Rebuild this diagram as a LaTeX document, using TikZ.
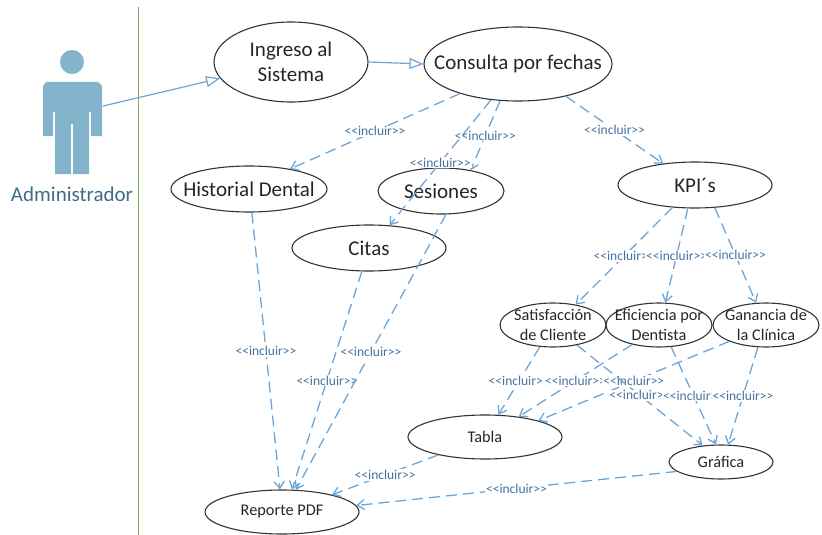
\documentclass[tikz,border=0pt]{standalone}
\usepackage{fontspec}
\setmainfont{Carlito}
\usetikzlibrary{arrows.meta, shapes.geometric}
\definecolor{linkblue}{RGB}{110,165,215}
\definecolor{labelblue}{RGB}{68,114,160}
\definecolor{actorblue}{RGB}{132,180,204}
\definecolor{actortext}{RGB}{62,110,135}
\definecolor{laneGreen}{RGB}{125,170,85}
\newcommand{\incltext}{<{}<incluir>{}>}
\tikzset{
  usecase/.style={draw=black!80, line width=1.1pt, ellipse, inner sep=-60pt, align=center, text=black!85},
  bigcase/.style={usecase, font=\fontsize{21}{25}\selectfont, minimum height=46pt},
  smallcase/.style={usecase, font=\fontsize{16.3}{20}\selectfont, minimum height=44pt},
  inclink/.style={draw=linkblue, line width=1.3pt, dash pattern=on 11pt off 6pt, -{Straight Barb[length=7pt, width=10pt]}},
  incl/.style={midway, fill=white, inner sep=1pt, text=labelblue, font=\fontsize{13.5}{15}\selectfont},
  assoc/.style={draw=linkblue, line width=1.2pt, -{Triangle[open, fill=white, length=14pt, width=11pt]}}
}
\begin{document}
\begin{tikzpicture}[x=1pt, y=-1pt]
        \useasboundingbox (0,0) rectangle (822,535);
        % Lane line
        \coordinate (lanetop) at (138,7);
        \coordinate (lanebot) at (138,535);
        \draw[laneGreen, line width=0.9pt] (lanetop) -- (lanebot);
        % Actor
        \fill[actorblue] (72,62) circle (12);
        \fill[actorblue] (46,82) -- (98,82) -- (102,86) -- (102,136) -- (91,136) -- (91,112) -- (89,112)
          -- (89,174) -- (55,174) -- (55,112) -- (53,112) -- (53,136) -- (43,136) -- (43,86) -- cycle;
        \fill[white] (71.3,124) rectangle (73,174);
        \node[text=actortext, font=\fontsize{21}{25}\selectfont] (admin) at (72,194) {Administrador};
        \coordinate (actor) at (103,106);
        % Use cases
        \node[usecase, font=\fontsize{21}{25}\selectfont, minimum width=154pt, minimum height=80pt] (ingreso) at (291,62) {Ingreso al\\Sistema};
        \node[usecase, font=\fontsize{21}{25}\selectfont, minimum width=188pt, minimum height=74pt] (consulta) at (518,64) {Consulta por fechas};
        \node[bigcase, minimum width=156pt] (historial) at (249,189) {Historial Dental};
        \node[bigcase, minimum width=126pt] (sesiones) at (441,191) {Sesiones};
        \node[bigcase, minimum width=154pt] (citas) at (369,248) {Citas};
        \node[bigcase, minimum width=154pt] (kpi) at (695,185) {KPI´s};
        % Indicators
        \node[smallcase, minimum width=106pt] (satisfaccion) at (553,325) {Satisfacción\\de Cliente};
        \node[smallcase, minimum width=106pt] (eficiencia) at (659,325) {Eficiencia por\\Dentista};
        \node[smallcase, minimum width=106pt] (ganancia) at (766,325) {Ganancia de\\la Clínica};
        % Outputs
        \node[smallcase, minimum width=154pt] (tabla) at (485,437) {Tabla};
        \node[smallcase, minimum width=104pt, minimum height=34pt] (grafica) at (721,462) {Gráfica};
        \node[smallcase, minimum width=154pt] (reporte) at (282,512) {Reporte PDF};
        % Associations
        \draw[assoc] (actor) -- (ingreso.193);
        \draw[assoc] (ingreso.0) -- (consulta.180);
        % Includes from the query
        \draw[inclink] (consulta.207) -- node[incl] (inclhistorial) {\incltext} (historial.26);
        \draw[inclink] (consulta.244) -- node[incl] (inclsesiones) {\incltext} (sesiones.35);
        \draw[inclink] (consulta.233) -- node[incl] (inclcitas) {\incltext} (citas.48);
        \draw[inclink] (consulta.-34) -- node[incl] (inclkpi) {\incltext} (kpi.146);
        % Includes to the report
        \draw[inclink] (historial.277) -- node[incl] (inclhr) {\incltext} (reporte.95);
        \draw[inclink] (citas.253) -- node[incl] (inclcr) {\incltext} (reporte.66);
        \draw[inclink] (sesiones.282) -- node[incl] (inclsr) {\incltext} (reporte.58);
        % Includes from KPI
        \draw[inclink] (kpi.225) -- node[incl] (inclks) {\incltext} (satisfaccion.42);
        \draw[inclink] (kpi.253) -- node[incl] (inclke) {\incltext} (eficiencia.74);
        \draw[inclink] (kpi.311) -- node[incl] (inclkg) {\incltext} (ganancia.114);
        % Includes to table
        \draw[inclink] (satisfaccion.239) -- node[incl] (incltablas) {\incltext} (tabla.59);
        \draw[inclink] (eficiencia.216) -- node[incl] (incltablae) {\incltext} (tabla.31);
        \draw[inclink] (ganancia.204) -- node[incl] (incltablag) {\incltext} (tabla.17);
        % Includes to chart
        \draw[inclink] (satisfaccion.320) -- node[incl] (inclgrafs) {\incltext} (grafica.138);
        \draw[inclink] (eficiencia.299) -- node[incl] (inclgrafe) {\incltext} (grafica.106);
        \draw[inclink] (ganancia.250) -- node[incl] (inclgrafg) {\incltext} (grafica.68);
        % Outputs to the report
        \draw[inclink] (tabla.201) -- node[incl] (incltr) {\incltext} (reporte.19);
        \draw[inclink] (grafica.192) -- node[incl] (inclgr) {\incltext} (reporte.5);
      \end{tikzpicture}
\end{document}
